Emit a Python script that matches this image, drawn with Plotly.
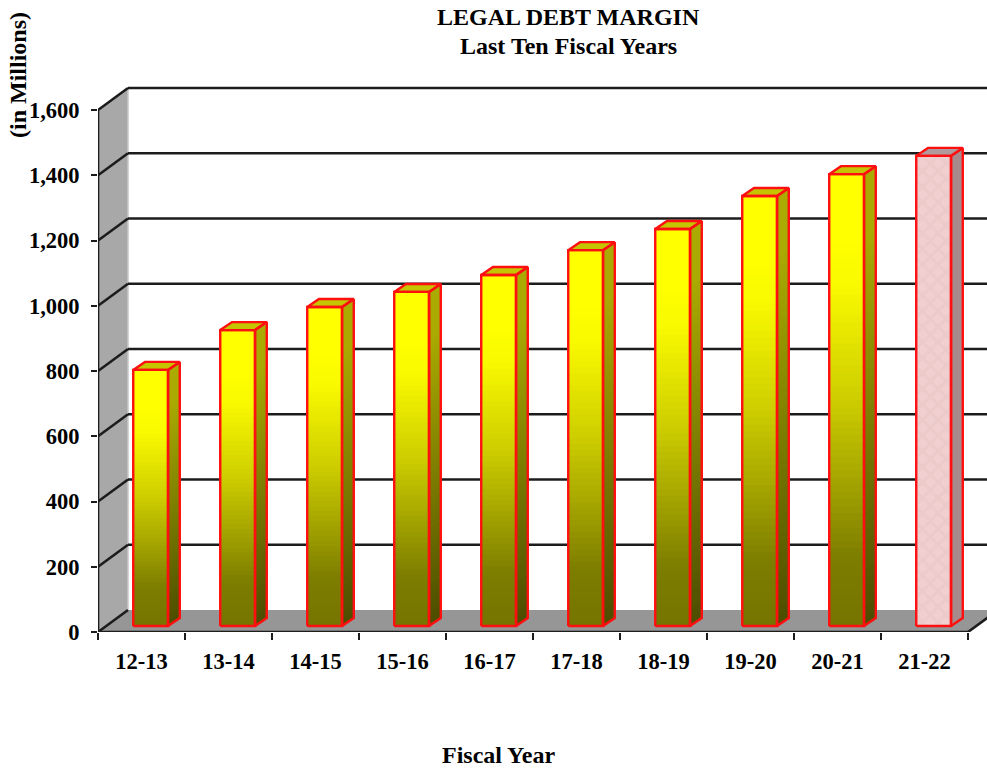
import plotly.graph_objects as go

# Legal debt margin by fiscal year, in millions of dollars
fiscal_years = ["12-13", "13-14", "14-15", "15-16", "16-17",
                "17-18", "18-19", "19-20", "20-21", "21-22"]
debt_margin = [785, 907, 978, 1024, 1076, 1152, 1217, 1318, 1385, 1441]
y_ticks = [0, 200, 400, 600, 800, 1000, 1200, 1400, 1600]
y_tick_text = ["0", "200", "400", "600", "800", "1,000", "1,200", "1,400", "1,600"]

# Oblique projection offsets, in axis units
WALL_DX, WALL_DY = 0.345, 67.4     # back wall relative to the front plane
BAR_DX, BAR_DY = 0.105, 18.4       # bar front face relative to the front plane
SIDE_DX, SIDE_DY = 0.135, 24.5     # bar depth
BAR_HALF = 0.2
X0, X1 = -0.5, 9.5
Y_TOP = 1600
X_MAX, Y_MAX = 9.7184, 1937.2

INK = "#1c1c1c"
OUTLINE = "#ff1010"
FONT = "Liberation Serif"
SLICES = 64
FORECAST = 9  # index of the last, differently coloured bar


def front_level(f):
    """Brightness of the front face at fraction f of the bar height."""
    stops = [(0, 117), (0.15, 125), (0.5, 205), (0.75, 248), (0.85, 255), (1, 255)]
    for (a, va), (b, vb) in zip(stops, stops[1:]):
        if f <= b:
            return round(va + (vb - va) * (f - a) / (b - a))
    return 255


def olive(v):
    return f"rgb({v},{v},0)"


def edge(x0, y0, x1, y1, width=2.6, color=INK, layer="below"):
    return dict(type="line", x0=x0, y0=y0, x1=x1, y1=y1, layer=layer,
                line=dict(color=color, width=width))


def face(points, color):
    path = "M" + " L".join(f"{x},{y}" for x, y in points) + " Z"
    return dict(type="path", path=path, fillcolor=color, layer="below",
                line=dict(width=0))


# Side wall, floor and grid of the box
shapes = [
    face([(X0, 0), (X0 + WALL_DX, WALL_DY), (X0 + WALL_DX, Y_TOP + WALL_DY), (X0, Y_TOP)], "#a8a8a8"),
    face([(X0, 0), (X0 + WALL_DX, WALL_DY), (X1 + WALL_DX, WALL_DY), (X1, 0)], "#969696"),
    edge(X0 + WALL_DX, WALL_DY, X0 + WALL_DX, Y_TOP + WALL_DY, width=1.5, color="#c8c8c8"),
]
for t in y_ticks:
    shapes.append(edge(X0, t, X0 + WALL_DX, t + WALL_DY))
    if t > 0:
        shapes.append(edge(X0 + WALL_DX, t + WALL_DY, X_MAX + 0.1, t + WALL_DY))
shapes += [
    edge(X0, 0, X0, Y_TOP),
    edge(X0, 0, X1, 0),
    edge(X1, 0, X1 + WALL_DX, WALL_DY),
]

fig = go.Figure()

# Front faces: a vertical gradient built from slices of each value,
# each one reaching the top of its bar so that no gaps show between them
slice_x, slice_base, slice_h, slice_col = [], [], [], []
for i, v in enumerate(debt_margin):
    if i == FORECAST:
        continue
    for s in range(SLICES):
        low = v * s / SLICES
        slice_x.append(i + BAR_DX)
        slice_base.append(BAR_DY + low)
        slice_h.append(v - low)
        slice_col.append(olive(front_level((s + 0.5) / SLICES)))
fig.add_bar(x=slice_x, y=slice_h, base=slice_base, width=2 * BAR_HALF,
            marker=dict(color=slice_col, line=dict(width=0)))

# Mottled pink front face of the latest year
fig.add_bar(x=[FORECAST + BAR_DX], y=[debt_margin[FORECAST]], base=[BAR_DY], width=2 * BAR_HALF,
            marker=dict(color="#edc9c9", line=dict(width=0),
                        pattern=dict(shape="x", size=11, solidity=0.5,
                                     fgcolor="#ebc6c6", bgcolor="#efcfcf")))

# Side faces, painted from the bottom up so neighbouring bands overlap
SIDE_BANDS = 48
for s in range(SIDE_BANDS):
    f = s / SIDE_BANDS
    xs, ys = [], []
    for i, v in enumerate(debt_margin):
        if i == FORECAST:
            continue
        xr = i + BAR_DX + BAR_HALF
        low = BAR_DY + v * f
        top = BAR_DY + v
        xs += [xr, xr + SIDE_DX, xr + SIDE_DX, xr, xr, None]
        ys += [low, low + SIDE_DY, top + SIDE_DY, top, low, None]
    fig.add_scatter(x=xs, y=ys, mode="lines", line=dict(width=0), fill="toself",
                    fillcolor=olive(round(78 + 92 * min(f / 0.85, 1))))


def box_side(i, v):
    xr = i + BAR_DX + BAR_HALF
    return ([xr, xr + SIDE_DX, xr + SIDE_DX, xr, xr, None],
            [BAR_DY, BAR_DY + SIDE_DY, BAR_DY + v + SIDE_DY, BAR_DY + v, BAR_DY, None])


def box_top(i, v):
    xl, xr = i + BAR_DX - BAR_HALF, i + BAR_DX + BAR_HALF
    t = BAR_DY + v
    return ([xl, xr, xr + SIDE_DX, xl + SIDE_DX, xl, None],
            [t, t, t + SIDE_DY, t + SIDE_DY, t, None])


# Side of the pink bar, then the lids
xs, ys = box_side(FORECAST, debt_margin[FORECAST])
fig.add_scatter(x=xs, y=ys, mode="lines", line=dict(width=0), fill="toself", fillcolor="#a98a8c")
xs, ys = [], []
for i, v in enumerate(debt_margin[:FORECAST]):
    a, b = box_top(i, v)
    xs += a
    ys += b
fig.add_scatter(x=xs, y=ys, mode="lines", line=dict(width=0), fill="toself", fillcolor="#c4c400")
xs, ys = box_top(FORECAST, debt_margin[FORECAST])
fig.add_scatter(x=xs, y=ys, mode="lines", line=dict(width=0), fill="toself", fillcolor="#b09a9c")

# Red outline around every visible face
xs, ys = [], []
for i, v in enumerate(debt_margin):
    xl, xr = i + BAR_DX - BAR_HALF, i + BAR_DX + BAR_HALF
    xs += [xl, xr, xr, xl, xl, None]
    ys += [BAR_DY, BAR_DY, BAR_DY + v, BAR_DY + v, BAR_DY, None]
    for part in (box_side(i, v), box_top(i, v)):
        xs += part[0]
        ys += part[1]
fig.add_scatter(x=xs, y=ys, mode="lines", line=dict(color=OUTLINE, width=2.4))

tick_font = dict(family=FONT, size=22.5, color="#000000", weight="bold")
fig.update_layout(
    width=987, height=769,
    margin=dict(l=98, r=0, t=0, b=137),
    paper_bgcolor="white", plot_bgcolor="white",
    barmode="overlay", showlegend=False, hovermode=False,
    shapes=shapes,
    xaxis=dict(range=[X0, X_MAX], tickmode="array", tickvals=list(range(10)), ticktext=fiscal_years,
               ticks="", showgrid=False, zeroline=False, showline=False, tickfont=tick_font,
               ticklabelstandoff=13,
               minor=dict(tickmode="array", tickvals=[k - 0.5 for k in range(11)], ticks="outside",
                          ticklen=7, tickwidth=1.6, tickcolor=INK, showgrid=False)),
    yaxis=dict(range=[0, Y_MAX], tickmode="array", tickvals=y_ticks, ticktext=y_tick_text,
               ticks="outside", ticklen=6, tickwidth=1.6, tickcolor=INK, showgrid=False,
               zeroline=False, showline=False, tickfont=tick_font, ticklabelstandoff=7),
)

# Titles, placed in pixels of the page and converted to the plot's paper fractions
titles = [
    ("LEGAL DEBT MARGIN", 568, 17, 0),
    ("Last Ten Fiscal Years", 568, 46, 0),
    ("Fiscal Year", 498, 755, 0),
    ("(in Millions)", 18, 75, -90),
]
title_font = dict(family=FONT, size=24, color="#000000")
for text, px, py, angle in titles:
    fig.add_annotation(text=f"<b>{text}</b>", xref="paper", yref="paper",
                       x=(px - 98) / 889, y=(632 - py) / 632, textangle=angle,
                       xanchor="center", yanchor="middle", showarrow=False, font=title_font)

fig.write_html("out.html", config=dict(displayModeBar=False))
